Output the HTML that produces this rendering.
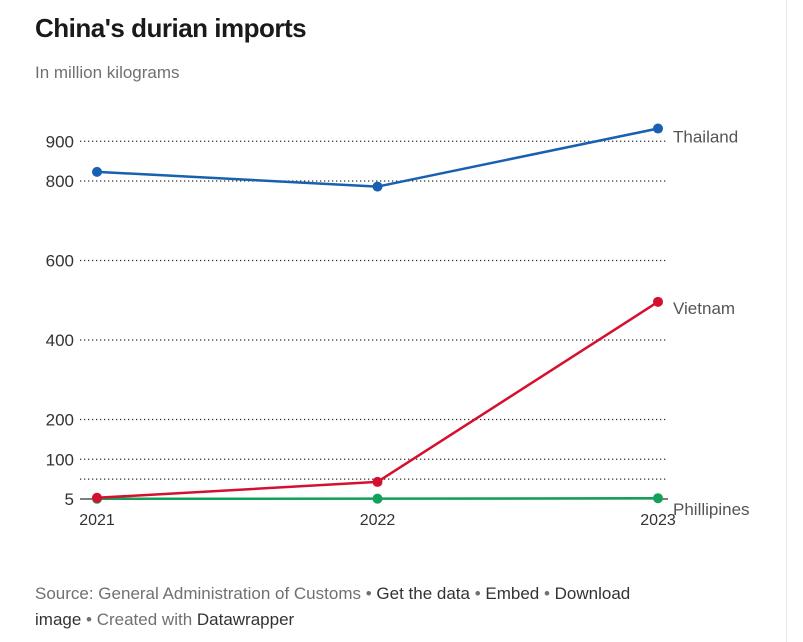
<!DOCTYPE html>
<html><head><meta charset="utf-8">
<style>
body{margin:0;background:#fff;width:803px;height:642px;overflow:hidden;font-family:"Liberation Sans",sans-serif;position:relative}
#title{position:absolute;left:35px;top:13px;font-size:26px;font-weight:bold;color:#1a1a1a;letter-spacing:-0.5px}
#sub{position:absolute;left:35px;top:63px;font-size:17px;color:#707070}
#src{position:absolute;left:35px;top:581px;width:640px;font-size:17px;line-height:26px;color:#707070}
#src b{font-weight:normal;color:#333}
#border{position:absolute;left:786px;top:0;width:1px;height:642px;background:#e6e6e6}
svg{position:absolute;left:0;top:0}
</style></head><body>
<div id="title">China's durian imports</div>
<div id="sub">In million kilograms</div>
<div id="border"></div>
<svg id="chart" width="803" height="642"></svg>
<div id="src">Source: General Administration of Customs • <b>Get the data</b> • <b>Embed</b> • <b>Download image</b> • Created with <b>Datawrapper</b></div>
<script>
const years=["2021","2022","2023"];
const thailand=[823,786,932];
const vietnam=[3,43,496];
const philippines=[0.5,0.8,2];
const yTicks=[900,800,600,400,200,100,50,5];
const yTickLabels=["900","800","600","400","200","100","","5"];
const seriesNames=["Thailand","Vietnam","Phillipines"];

const NS="http://www.w3.org/2000/svg";
const svg=document.getElementById('chart');
function x(i){return 97+i*280.5;}
function y(v){return 499-v*0.3975;}
function mk(t,a){const e=document.createElementNS(NS,t);for(const k in a)e.setAttribute(k,a[k]);svg.appendChild(e);return e;}

yTicks.forEach((v,i)=>{
  if(v===5){
    const l=mk('line',{x1:80,x2:668,y1:y(0),y2:y(0),stroke:'#333','stroke-width':1.3});
    
    
  } else {
    const l=mk('line',{x1:80,x2:668,y1:y(v),y2:y(v),stroke:'#333','stroke-width':1.3,'stroke-dasharray':'1.3 2.7'});
    
    
  }
  if(yTickLabels[i]){
    const t=mk('text',{x:74,y:(v===5?y(0):y(v))+6,'text-anchor':'end','font-size':17,fill:'#333','font-family':'Liberation Sans, sans-serif'});
    t.textContent=yTickLabels[i];
    
    
  }
});
years.forEach((yr,i)=>{
  const t=mk('text',{x:x(i),y:525,'text-anchor':'middle','font-size':16,fill:'#333','font-family':'Liberation Sans, sans-serif'});
  t.textContent=yr;
  
  
});
const data=[philippines,thailand,vietnam];
const colors=['#15a05a','#1761b0','#d5102f'];
const names=['Phillipines','Thailand','Vietnam'];
const labelDy=[17,14,12];
data.forEach((s,si)=>{
  const pts=s.map((v,i)=>x(i)+','+y(v)).join(' ');
  const pl=mk('polyline',{points:pts,fill:'none',stroke:colors[si],'stroke-width':2.5,'stroke-linejoin':'round'});
  
  
  s.forEach((v,i)=>{
    const c=mk('circle',{cx:x(i),cy:y(v),r:5,fill:colors[si]});
    
    
  });
  const t=mk('text',{x:673,y:y(s[2])+labelDy[si],'font-size':17,fill:'#555','font-family':'Liberation Sans, sans-serif'});
  t.textContent=names[si];
  
  
});
</script>
</body></html>
